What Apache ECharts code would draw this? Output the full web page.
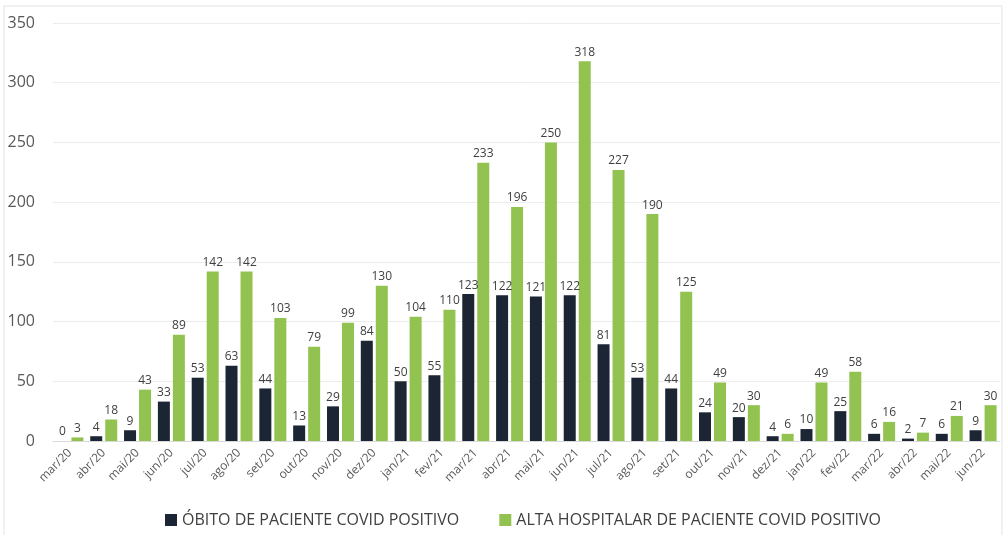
<!DOCTYPE html>
<html><head><meta charset="utf-8">
<script src="https://cdn.jsdelivr.net/npm/echarts@6/dist/echarts.min.js"></script>
<style>html,body{margin:0;padding:0;background:#fff}#c{width:1007px;height:535px}</style>
</head><body><div id="c"></div>
<script>
const categories = ["mar/20","abr/20","mai/20","jun/20","jul/20","ago/20","set/20","out/20","nov/20","dez/20","jan/21","fev/21","mar/21","abr/21","mai/21","jun/21","jul/21","ago/21","set/21","out/21","nov/21","dez/21","jan/22","fev/22","mar/22","abr/22","mai/22","jun/22"];
const obitos = [0,4,9,33,53,63,44,13,29,84,50,55,123,122,121,122,81,53,44,24,20,4,10,25,6,2,6,9];
const altas = [3,18,43,89,142,142,103,79,99,130,104,110,233,196,250,318,227,190,125,49,30,6,49,58,16,7,21,30];
const seriesNames = ["ÓBITO DE PACIENTE COVID POSITIVO","ALTA HOSPITALAR DE PACIENTE COVID POSITIVO"];
const yTicks = {min:0,max:350,interval:50};

const font = "'Open Sans', 'Noto Sans', sans-serif";
const chart = echarts.init(document.getElementById('c'));
const lbl = {show:true, position:'top', distance:3, color:'#404040', fontSize:12, fontFamily:font};
chart.setOption({
  animation:false,
  textStyle:{fontFamily:font},
  graphic:[{type:'rect', shape:{x:4,y:6,width:998,height:540}, style:{fill:'none', stroke:'#e3e3e3', lineWidth:1}, silent:true}],
  grid:{left:53, right:7, top:23, bottom:94, containLabel:false},
  legend:{
    bottom:2, left:160, itemWidth:12, itemHeight:12, itemGap:40, icon:'rect',
    textStyle:{color:'#404040', fontSize:16, fontFamily:font},
    data:seriesNames
  },
  xAxis:{
    type:'category', data:categories,
    axisLine:{lineStyle:{color:'#d9d9d9'}}, axisTick:{show:false},
    axisLabel:{rotate:45, color:'#595959', fontSize:12, fontFamily:font, interval:0, margin:10}
  },
  yAxis:{
    type:'value', min:yTicks.min, max:yTicks.max, interval:yTicks.interval,
    axisLine:{show:false}, axisTick:{show:false},
    splitLine:{lineStyle:{color:'#ececec'}},
    axisLabel:{color:'#595959', fontSize:16, fontFamily:font, margin:18}
  },
  series:[
    {name:seriesNames[0], type:'bar', data:obitos, barWidth:12, barGap:'25%', itemStyle:{color:'#1c2533'}, label:lbl},
    {name:seriesNames[1], type:'bar', data:altas, barWidth:12, itemStyle:{color:'#92c351'}, label:lbl}
  ]
});
</script></body></html>
